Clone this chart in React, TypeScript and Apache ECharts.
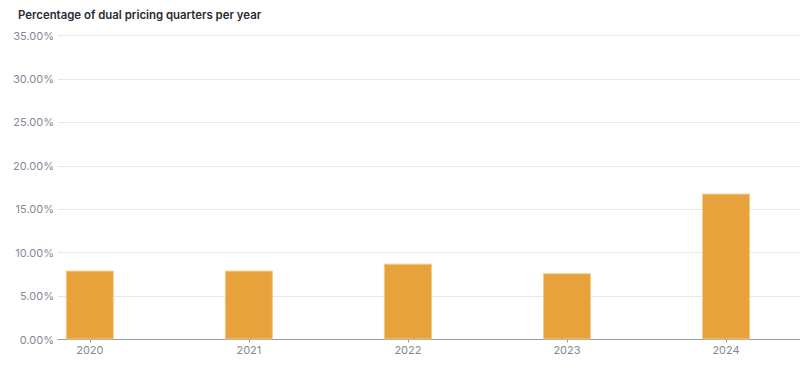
import React, { useEffect, useRef } from "react";
import * as echarts from "echarts";

const years = [2020, 2021, 2022, 2023, 2024];
const percentages = [7.93, 7.93, 8.73, 7.63, 16.8];
const yTicks = [0, 5, 10, 15, 20, 25, 30, 35];
const title = "Percentage of dual pricing quarters per year";

export default function App() {
  const ref = useRef<HTMLDivElement>(null);
  useEffect(() => {
    if (!ref.current) return;
    const chart = echarts.init(ref.current, undefined, { renderer: "svg" });
    chart.setOption({
      animation: false,
      title: {
        text: title,
        left: 13,
        top: 4,
        textStyle: {
          fontFamily: "Inter",
          fontSize: 11.4,
          fontWeight: 600,
          color: "#272c36",
        },
      },
      grid: { left: 58, right: 0, top: 35.5, bottom: 34.5, containLabel: false },
      xAxis: {
        type: "value",
        min: 2019.8,
        max: 2024.465,
        splitLine: { show: false },
        axisLine: { show: true, lineStyle: { color: "#9499a6", width: 1 } },
        axisTick: {
          show: true,
          customValues: years,
          length: 3,
          lineStyle: { color: "#9499a6" },
        },
        axisLabel: {
          customValues: years,
          formatter: (v: number) => String(Math.round(v)),
          color: "#838896",
          fontFamily: "Inter",
          fontSize: 11,
          margin: 5,
        },
      },
      yAxis: {
        type: "value",
        min: 0,
        max: 35,
        interval: 5,
        axisLine: { show: false },
        axisTick: { show: false },
        splitLine: { lineStyle: { color: "#e8e8ea", width: 1 } },
        axisLabel: {
          customValues: yTicks,
          formatter: (v: number) => v.toFixed(2) + "%",
          color: "#838896",
          fontFamily: "Inter",
          fontSize: 11,
          margin: 4,
        },
      },
      series: [
        {
          type: "bar",
          data: years.map((y, i) => [y, percentages[i]]),
          barWidth: 48,
          itemStyle: {
            color: "#e8a23b",
            borderColor: "#f3c98c",
            borderWidth: 1,
          },
        },
      ],
    });
    return () => chart.dispose();
  }, []);
  return (
    <div
      ref={ref}
      style={{ position: "fixed", left: 0, top: 0, width: 800, height: 374, background: "#fff" }}
    />
  );
}
